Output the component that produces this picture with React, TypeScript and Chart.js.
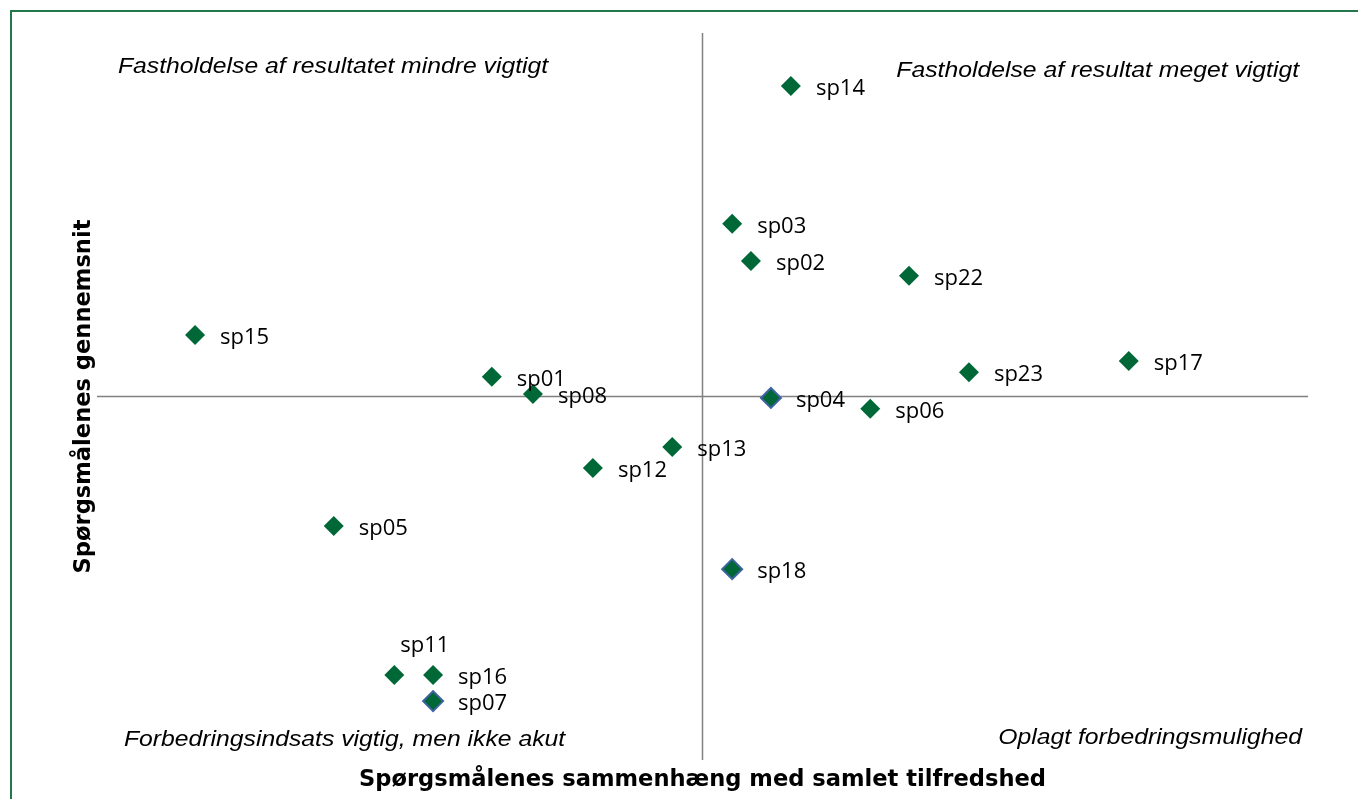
import React, { useEffect, useRef } from "react";
import { Chart, registerables } from "chart.js";

Chart.register(...registerables);

const names = ["sp14", "sp03", "sp02", "sp22", "sp15", "sp17", "sp23", "sp01", "sp08", "sp04", "sp06", "sp13", "sp12", "sp05", "sp18", "sp11", "sp16", "sp07"];
const xValues = [14.6, 4.9, 8.0, 34.1, -83.8, 70.4, 44.0, -34.8, -28.0, 11.3, 27.7, -5.0, -18.1, -60.9, 4.9, -50.9, -44.5, -44.5];
const yValues = [85.4, 47.5, 37.3, 33.2, 16.9, 9.8, 6.7, 5.4, 0.7, -0.4, -3.4, -13.9, -19.7, -35.6, -47.5, -76.6, -76.6, -83.8];
const outlined = ["sp04", "sp18", "sp07"];
const labelAbove = ["sp11"];

const quadrantTopLeft = "Fastholdelse af resultatet mindre vigtigt";
const quadrantTopRight = "Fastholdelse af resultat meget vigtigt";
const quadrantBottomLeft = "Forbedringsindsats vigtig, men ikke akut";
const quadrantBottomRight = "Oplagt forbedringsmulighed";
const xTitle = "Spørgsmålenes sammenhæng med samlet tilfredshed";
const yTitle = "Spørgsmålenes gennemsnit";

const GREEN = "#006837";
const BLUE = "#3E63A0";

function stretchText(ctx: any, text: string, x: number, y: number, align: "left" | "right", sx: number) {
  const w = ctx.measureText(text).width * sx;
  const left = align === "left" ? x : x - w;
  ctx.save();
  ctx.translate(left, y);
  ctx.scale(sx, 1);
  ctx.textAlign = "left";
  ctx.fillText(text, 0, 0);
  ctx.restore();
}

const overlay = {
  id: "overlay",
  beforeDatasetsDraw(chart: any) {
    const { ctx, chartArea } = chart;
    const xs = chart.scales.x;
    const ys = chart.scales.y;
    const cx = xs.getPixelForValue(0);
    const cy = ys.getPixelForValue(0);
    ctx.save();
    ctx.strokeStyle = "#808080";
    ctx.lineWidth = 1.5;
    ctx.beginPath();
    ctx.moveTo(chartArea.left, cy);
    ctx.lineTo(chartArea.right, cy);
    ctx.moveTo(cx, chartArea.top);
    ctx.lineTo(cx, chartArea.bottom);
    ctx.stroke();
    ctx.restore();
  },
  afterDatasetsDraw(chart: any) {
    const { ctx, chartArea } = chart;
    const meta = chart.getDatasetMeta(0);
    ctx.save();
    ctx.fillStyle = "#000";
    ctx.textBaseline = "middle";
    ctx.font = "22px 'Open Sans'";
    ctx.textAlign = "left";
    meta.data.forEach((el: any, i: number) => {
      const name = names[i];
      if (labelAbove.includes(name)) {
        ctx.fillText(name, el.x + 6, el.y - 29);
      } else {
        ctx.fillText(name, el.x + 25, el.y + 3);
      }
    });

    ctx.font = "italic 21.5px 'Liberation Sans'";
    const sx = 1.15;
    stretchText(ctx, quadrantTopLeft, chartArea.left + 21, chartArea.top + 34, "left", sx);
    stretchText(ctx, quadrantBottomLeft, chartArea.left + 27, chartArea.bottom - 20, "left", sx);
    stretchText(ctx, quadrantTopRight, chartArea.right - 9, chartArea.top + 38, "right", sx);
    stretchText(ctx, quadrantBottomRight, chartArea.right - 6, chartArea.bottom - 22, "right", sx);

    ctx.font = "bold 22.6px 'DejaVu Sans'";
    ctx.textAlign = "center";
    ctx.fillText(xTitle, (chartArea.left + chartArea.right) / 2, chartArea.bottom + 20);
    ctx.translate(chartArea.left - 13, (chartArea.top + chartArea.bottom) / 2);
    ctx.rotate(-Math.PI / 2);
    ctx.fillText(yTitle, 0, 0);
    ctx.restore();
  },
};

export default function App() {
  const ref = useRef<HTMLCanvasElement>(null);
  useEffect(() => {
    if (!ref.current) return;
    const chart = new Chart(ref.current, {
      type: "scatter",
      data: {
        datasets: [
          {
            data: names.map((_, i) => ({ x: xValues[i], y: yValues[i] })),
            pointStyle: "rectRot",
            pointRadius: 10,
            pointHoverRadius: 10,
            backgroundColor: GREEN,
            borderColor: names.map((n) => (outlined.includes(n) ? BLUE : GREEN)),
            borderWidth: names.map((n) => (outlined.includes(n) ? 2 : 0)),
          },
        ],
      },
      options: {
        animation: false,
        responsive: true,
        maintainAspectRatio: false,
        layout: { padding: { left: 85, right: 50, top: 21, bottom: 39 } },
        plugins: { legend: { display: false }, tooltip: { enabled: false } },
        scales: {
          x: { display: false, min: -100, max: 100 },
          y: { display: false, min: -100, max: 100 },
        },
      },
      plugins: [overlay],
    });
    return () => chart.destroy();
  }, []);

  return (
    <div style={{ position: "fixed", left: 0, top: 0, width: 1358, height: 799, overflow: "hidden", background: "#fff" }}>
      <div
        style={{
          position: "absolute",
          left: 10,
          top: 10,
          width: 1370,
          height: 820,
          border: "2px solid #22784A",
          boxSizing: "border-box",
        }}
      >
        <div style={{ position: "absolute", left: 0, top: 0, width: 1346, height: 787 }}>
          <canvas ref={ref} />
        </div>
      </div>
    </div>
  );
}
